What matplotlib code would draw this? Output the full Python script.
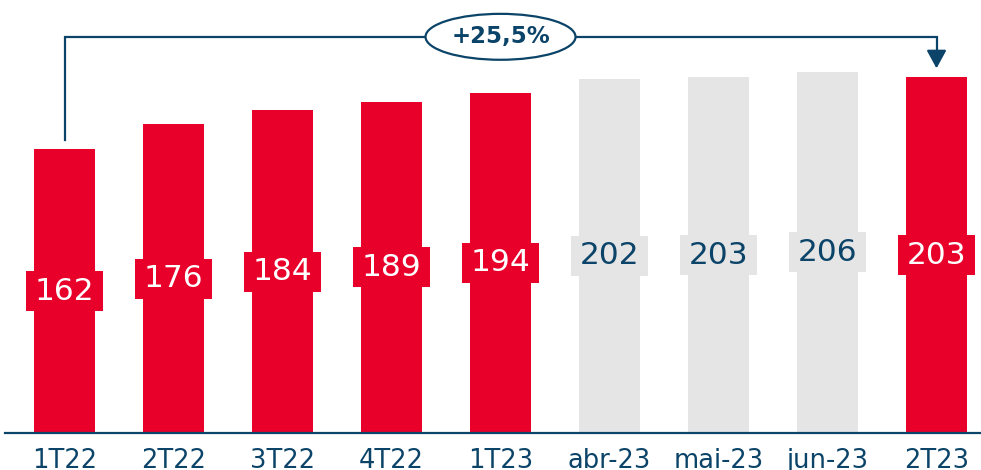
import matplotlib
matplotlib.use('Agg')
import matplotlib.pyplot as plt
from matplotlib.patches import Ellipse, Rectangle

# data
categories = ['1T22', '2T22', '3T22', '4T22', '1T23', 'abr-23', 'mai-23', 'jun-23', '2T23']
values = [162, 176, 184, 189, 194, 202, 203, 206, 203]
is_quarter = [True, True, True, True, True, False, False, False, True]
growth_label = '+25,5%'

RED = '#E8002B'
GREY = '#E5E5E5'
NAVY = '#0B4468'

plt.rcParams['font.family'] = ['DejaVu Sans']

fig = plt.figure(figsize=(9.81, 4.70), dpi=100)
ax = fig.add_axes([5 / 981, 37 / 470, 976 / 981, 433 / 470])

x = list(range(len(categories)))
colors = [RED if q else GREY for q in is_quarter]
ax.bar(x, values, width=0.56, color=colors, zorder=2)

# value labels on a box the colour of the bar
box_w, box_h = 0.70, 22.8
for xi, v, q, c in zip(x, values, is_quarter, colors):
    yc = v / 2
    ax.add_patch(Rectangle((xi - box_w / 2, yc - box_h / 2), box_w, box_h,
                           facecolor=c, edgecolor='none', zorder=3))
    ax.text(xi, yc, str(v), ha='center', va='center', fontsize=22.5,
            color='white' if q else NAVY, zorder=4)

# growth bracket 1T22 -> 2T23
level = max(values) + 20
start_y = values[0] + 5
end_y = values[-1] + 5
ax.plot([x[0], x[0], x[-1], x[-1]], [start_y, level, level, end_y + 8],
        color=NAVY, lw=1.6, clip_on=False, zorder=5, solid_joinstyle='miter')
ax.annotate('', xy=(x[-1], end_y), xytext=(x[-1], end_y + 10),
            arrowprops=dict(arrowstyle='-|>,head_width=0.3,head_length=0.55',
                            color=NAVY, lw=1.6, mutation_scale=20,
                            shrinkA=0, shrinkB=0), zorder=5)
mid = (x[0] + x[-1]) / 2
ax.add_patch(Ellipse((mid, level), 1.376, 26.2, facecolor='white',
                     edgecolor=NAVY, lw=1.6, zorder=6, clip_on=False))
ax.text(mid, level, growth_label, ha='center', va='center', fontsize=16.5,
        fontweight='bold', color=NAVY, zorder=7)

ax.set_xlim(-0.546, 8.408)
ax.set_ylim(0, 247)
for s in ['top', 'left', 'right']:
    ax.spines[s].set_visible(False)
ax.spines['bottom'].set_color(NAVY)
ax.spines['bottom'].set_linewidth(1.6)
ax.set_yticks([])
ax.set_xticks(x)
ax.set_xticklabels(categories, fontsize=18.5, color=NAVY)
ax.tick_params(axis='x', length=0, pad=11)

fig.savefig('out.png', dpi=100)
